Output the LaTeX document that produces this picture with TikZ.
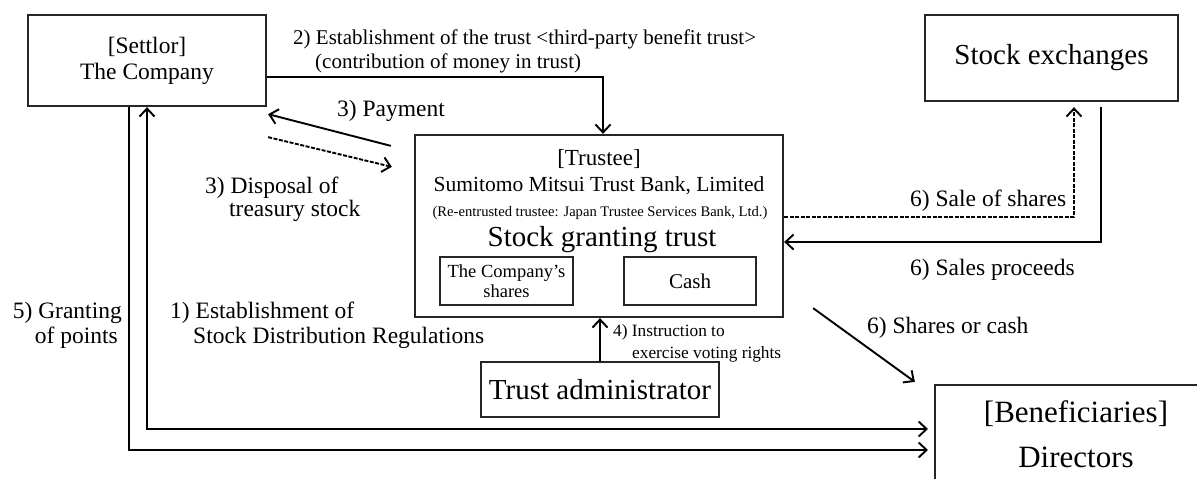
\documentclass[tikz,border=0pt]{standalone}
\usepackage{fontspec}
\setmainfont{Liberation Serif}
\usetikzlibrary{arrows.meta,calc}
\tikzset{barb/.tip={Straight Barb[length=8pt,width=15pt]}}
\begin{document}
\begin{tikzpicture}[x=1pt,y=-1pt,
  box/.style={draw=black!85, line width=2.3pt, inner sep=0pt, align=center},
  conn/.style={line width=1.9pt, -barb},
  dconn/.style={line width=1.9pt, barb-barb},
  dsh/.style={dash pattern=on 4pt off 1.5pt},
  lbl/.style={inner sep=0pt, anchor=base west, font=\fontsize{23.5}{26}\selectfont},
  lblr/.style={inner sep=0pt, anchor=base east, font=\fontsize{23.5}{26}\selectfont},
  mid/.style={inner sep=0pt, anchor=base}]
\useasboundingbox (0,0) rectangle (1197,479);
\clip (0,0) rectangle (1197,479);

% boxes
\node[box, minimum width=238pt, minimum height=91pt, font=\fontsize{23.5}{26}\selectfont] (co) at (147,60.5) {[Settlor]\\The Company};
\node[box, minimum width=253pt, minimum height=86pt, font=\fontsize{29}{32}\selectfont] (se) at (1051.5,58) {Stock exchanges};
\node[box, minimum width=368pt, minimum height=182pt] (tr) at (599,226) {};
\node[box, line width=2.2pt, minimum width=133pt, minimum height=48pt, font=\fontsize{18.5}{20}\selectfont] (cs) at (506.5,281) {The Company’s\\shares};
\node[box, line width=2.2pt, minimum width=132pt, minimum height=48pt, font=\fontsize{21}{24}\selectfont] (cash) at (690,281) {Cash};
\node[box, minimum width=238pt, minimum height=55pt, font=\fontsize{29}{32}\selectfont] (ta) at (600,389.5) {Trust administrator};
\node[box, minimum width=282pt, minimum height=98pt, font=\fontsize{31}{45}\selectfont] (ben) at (1076,434) {[Beneficiaries]\\Directors};

% trustee texts
\node[mid, font=\fontsize{23}{26}\selectfont] (t1) at (599,165) {[Trustee]};
\node[mid, font=\fontsize{21.5}{24}\selectfont] (t2) at (599,191) {Sumitomo Mitsui Trust Bank, Limited};
\node[mid, font=\fontsize{14.6}{17}\selectfont] (t3) at (600,216) {(Re-entrusted trustee: Japan Trustee Services Bank, Ltd.)};
\node[mid, font=\fontsize{29}{32}\selectfont] (t4) at (602,246) {Stock granting trust};

% coordinates for free ends
\coordinate (g1) at (928,429);
\coordinate (g5) at (928,450);

% connectors
\draw[conn] ($(co.east)+(0,16.5)$) -| ($(tr.north)+(4,0)$);
\draw[conn] ($(tr.north west)+(-23,12)$) -- ($(co.south east)+(1,7)$);
\draw[conn, dsh] ($(co.south east)+(1,30)$) -- ($(tr.north west)+(-22,33)$);
\draw[conn] (ta.north) -- (ta.north |- tr.south);
\draw[conn, dsh] ($(tr.east)+(0,-9)$) -| ($(se.south)+(22.5,5)$);
\draw[conn] ($(se.south)+(49.5,5)$) |- ($(tr.east)+(0,16)$);
\draw[conn] ($(tr.south east)+(29,-10)$) -- ($(ben.north west)+(-19,-2)$);
\draw[conn] ($(co.south)+(-18,0)$) |- (g5);
\draw[dconn] (co.south) |- (g1);

% labels
\node[lbl, font=\fontsize{21}{24}\selectfont] (l2a) at (293,44) {2) Establishment of the trust <third-party benefit trust>};
\node[lbl, font=\fontsize{21}{24}\selectfont] (l2b) at (315,68) {(contribution of money in trust)};
\node[lbl] (l3a) at (337,116) {3) Payment};
\node[lbl] (l3b) at (205,193) {3) Disposal of};
\node[lbl] (l3c) at (229,216) {treasury stock};
\node[lblr] (l5a) at (122,318) {5) Granting};
\node[lblr] (l5b) at (118,343) {of points};
\node[lbl] (l1a) at (170,318) {1) Establishment of};
\node[lbl] (l1b) at (193,343) {Stock Distribution Regulations};
\node[lbl, font=\fontsize{17.3}{20}\selectfont] (l4a) at (613,336) {4) Instruction to};
\node[lbl, font=\fontsize{17.3}{20}\selectfont] (l4b) at (632,358) {exercise voting rights};
\node[lbl] (l6a) at (910,206) {6) Sale of shares};
\node[lbl] (l6b) at (910,275) {6) Sales proceeds};
\node[lbl] (l6c) at (867,333) {6) Shares or cash};
\end{tikzpicture}
\end{document}
